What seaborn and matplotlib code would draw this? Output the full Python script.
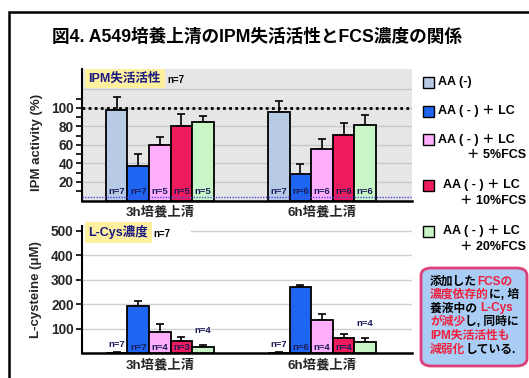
import numpy as np
import pandas as pd
import matplotlib
matplotlib.use("Agg")
import matplotlib.pyplot as plt
import matplotlib.patches as mpatches
from matplotlib.container import BarContainer
import seaborn as sns

# ---------------- data ----------------
groups = ["3h培養上清", "6h培養上清"]
conditions = ["AA (-)", "AA ( - ) ＋ LC", "AA ( - ) ＋ LC\n＋ 5%FCS",
              "AA ( - ) ＋ LC\n＋ 10%FCS", "AA ( - ) ＋ LC\n＋ 20%FCS"]
colors = ["#B7CBE5", "#1E66F2", "#FFAEFC", "#EE1C5C", "#C9F6C6"]

ipm_3h = [97.8, 37.0, 60.3, 80.5, 84.9]
ipm_3h_err = [14.0, 13.0, 8.3, 13.0, 6.5]
ipm_6h = [95.3, 28.3, 55.3, 71.2, 82.0]
ipm_6h_err = [12.3, 11.2, 11.5, 12.2, 10.8]
ipm_n_3h = ["n=7", "n=7", "n=5", "n=5", "n=5"]
ipm_n_6h = ["n=7", "n=6", "n=6", "n=6", "n=6"]

cys_3h = [3.0, 193.0, 86.0, 50.0, 26.0]
cys_3h_err = [1.0, 20.0, 32.0, 18.0, 8.0]
cys_6h = [3.0, 269.0, 136.0, 64.0, 45.0]
cys_6h_err = [1.0, 12.0, 26.0, 16.0, 17.0]
cys_n_3h = ["n=7", "n=7", "n=4", "n=3", "n=4"]
cys_n_6h = ["n=7", "n=6", "n=4", "n=4", "n=4"]

ipm_major_ticks = [20, 40, 60, 80, 100]
ipm_minor_ticks = [10, 30, 50, 70, 90, 110]
cys_ticks = [100, 200, 300, 400, 500]

title = "図4. A549培養上清のIPM失活活性とFCS濃度の関係"
note_lines = [
    [("添加した", "black"), ("FCSの", "#F0203C")],
    [("濃度依存的", "#F0203C"), ("に, 培", "black")],
    [("養液中の ", "black"), ("L-Cys", "#F0203C")],
    [("が減少", "#F0203C"), ("し, 同時に", "black")],
    [("IPM失活活性も", "#F0203C")],
    [("減弱化", "#F0203C"), ("している.", "black")],
]

# ---------------- style ----------------
sns.set_theme(style="white")
plt.rcParams["font.family"] = ["Liberation Sans", "Noto Sans CJK JP", "DejaVu Sans"]
plt.rcParams["font.weight"] = "bold"

W, H = 529, 378
fig = plt.figure(figsize=(W / 100, H / 100), dpi=100)
fig.patch.set_facecolor("white")

def fx(px):
    return px / W

def fy(py):
    return 1 - py / H

# outer frame
fig.patches.append(mpatches.Rectangle((fx(9), fy(400)), 1.2, fy(12) - fy(400),
                                      transform=fig.transFigure, fill=False,
                                      edgecolor="black", linewidth=1.8, zorder=0))

fig.text(fx(256.5), fy(37), title, ha="center", va="center", fontsize=12.7,
         fontweight="bold", color="black")

def make_df(v3, v6):
    rows = []
    for g, vals in zip(groups, [v3, v6]):
        for c, v in zip(conditions, vals):
            rows.append({"group": g, "cond": c, "val": v})
    return pd.DataFrame(rows)

def draw_panel(ax, v3, v6, e3, e6, n3, n6, inside_min, n_y, above_off):
    df = make_df(v3, v6)
    sns.barplot(data=df, x="group", y="val", hue="cond", order=groups,
                hue_order=conditions, palette=colors, saturation=1,
                width=0.665, edgecolor="black", linewidth=1.3,
                errorbar=None, legend=False, ax=ax, zorder=3)
    vals = [v3, v6]
    errs = [e3, e6]
    ns = [n3, n6]
    bar_conts = [c for c in ax.containers if isinstance(c, BarContainer)]
    for hi, cont in enumerate(bar_conts):
        for gi, bar in enumerate(list(cont)):
            xc = bar.get_x() + bar.get_width() / 2
            v = vals[gi][hi]
            e = errs[gi][hi]
            ax.errorbar(xc, v, yerr=[[0], [e]], fmt="none", ecolor="black",
                        elinewidth=1.2, capsize=3.2, capthick=1.2, zorder=2)
            if v >= inside_min:
                ax.text(xc, n_y, ns[gi][hi], ha="center", va="bottom",
                        fontsize=6.8, color="#1A1A5A", fontweight="bold", zorder=5)
            else:
                off = above_off if hi > 0 else above_off * 0.3
                ax.text(xc, v + e + off, ns[gi][hi], ha="center", va="bottom",
                        fontsize=6.8, color="#1A1A5A", fontweight="bold", zorder=5)
    ax.set_xlim(-0.48, 1.555)
    ax.set_xlabel("")
    ax.tick_params(axis="x", length=0, labelsize=9.6, pad=4)
    for lab in ax.get_xticklabels():
        lab.set_fontweight("bold")
    for s in ["top", "right"]:
        ax.spines[s].set_visible(False)
    ax.spines["left"].set_linewidth(1.5)
    ax.spines["bottom"].set_linewidth(1.8)
    ax.spines["left"].set_color("black")
    ax.spines["bottom"].set_color("black")
    ax.tick_params(axis="y", direction="out", length=4, width=1.2, color="black",
                   labelsize=9.8, pad=2, left=True)
    for lab in ax.get_yticklabels():
        lab.set_fontweight("bold")

# ---------------- top panel ----------------
ax1 = fig.add_axes([fx(82), fy(200.5), fx(412) - fx(82), fy(69.3) - fy(200.5)])
ax1.set_facecolor("#E6E6E6")
draw_panel(ax1, ipm_3h, ipm_6h, ipm_3h_err, ipm_6h_err, ipm_n_3h, ipm_n_6h,
           inside_min=0, n_y=4.5, above_off=5)
ax1.set_ylim(0, 141.8)
ax1.set_yticks(ipm_major_ticks)
ax1.set_yticks(ipm_minor_ticks, minor=True)
ax1.tick_params(axis="y", which="minor", direction="out", length=4, width=1.2,
                color="black", left=True)
for gv in [20, 40, 60, 80, 100, 120]:
    ax1.axhline(gv, color="#C8C8C8", linewidth=1.0, zorder=1)
ax1.axhline(100, color="black", linestyle=(0, (1, 1.2)), linewidth=2.0, zorder=2.5)
ax1.axhline(3.5, color="#4A4AE6", linestyle=(0, (1, 1)), linewidth=1.0, zorder=4)
ax1.set_ylabel("IPM activity (%)", fontsize=9.5, fontweight="bold")
ax1.yaxis.set_label_coords(-0.118, 0.44)
ax1.text(0.02, 0.93, "IPM失活活性", transform=ax1.transAxes, ha="left", va="center",
         fontsize=9, fontweight="bold", color="#1A1A80",
         bbox=dict(boxstyle="square,pad=0.3", facecolor="#FFF0A0", edgecolor="none"),
         zorder=6)
ax1.text(0.26, 0.915, "n=7", transform=ax1.transAxes, ha="left", va="center",
         fontsize=7, fontweight="bold", color="black", zorder=6)

# ---------------- bottom panel ----------------
ax2 = fig.add_axes([fx(82), fy(353.3), fx(412) - fx(82), fy(226) - fy(353.3)])
ax2.set_facecolor("white")
draw_panel(ax2, cys_3h, cys_6h, cys_3h_err, cys_6h_err, cys_n_3h, cys_n_6h,
           inside_min=48, n_y=6, above_off=40)
ax2.set_ylim(0, 520)
ax2.set_yticks(cys_ticks)
for gv in [100, 200, 300, 400]:
    ax2.axhline(gv, color="#D0D0D0", linewidth=1.0, zorder=1)
ax2.axhline(500, xmin=0.33, color="#D0D0D0", linewidth=1.0, zorder=1)
ax2.set_ylabel("L-cysteine (μM)", fontsize=9.5, fontweight="bold")
ax2.yaxis.set_label_coords(-0.12, 0.5)
ax2.text(0.02, 0.95, "L-Cys濃度", transform=ax2.transAxes, ha="left", va="center",
         fontsize=9, fontweight="bold", color="#1A1A80",
         bbox=dict(boxstyle="square,pad=0.3", facecolor="#FFF0A0", edgecolor="none"),
         zorder=6)
ax2.text(0.215, 0.935, "n=7", transform=ax2.transAxes, ha="left", va="center",
         fontsize=7, fontweight="bold", color="black", zorder=6)

# ---------------- legend ----------------
leg_y = [82.5, 111, 139.5, 185, 231]
leg_tx = [438, 438, 438, 443, 443]
for name, col, y, tx in zip(conditions, colors, leg_y, leg_tx):
    fig.patches.append(mpatches.Rectangle((fx(423), fy(y + 5.5)), fx(11), 11 / H,
                                          transform=fig.transFigure, facecolor=col,
                                          edgecolor="black", linewidth=1.0))
    lines = name.split("\n")
    fig.text(fx(tx), fy(y), lines[0], ha="left", va="center", fontsize=9,
             fontweight="bold", color="black")
    if len(lines) > 1:
        fig.text(fx(526), fy(y + 16), lines[1], ha="right", va="center", fontsize=9,
                 fontweight="bold", color="black")

# ---------------- note box ----------------
fig.patches.append(mpatches.FancyBboxPatch((fx(421), fy(366)), fx(106), (366 - 268) / H,
                                           boxstyle="round,pad=0,rounding_size=0.02",
                                           transform=fig.transFigure,
                                           facecolor="#A9CDF4", edgecolor="#E0407A",
                                           linewidth=2.0))
fig.canvas.draw()
renderer = fig.canvas.get_renderer()
line_y = [281.5, 295, 308.5, 322, 335.5, 349.5]
for segs, y in zip(note_lines, line_y):
    x = fx(430)
    for s, c in segs:
        t = fig.text(x, fy(y), s, ha="left", va="center", fontsize=8.5,
                     fontweight="bold", color=c)
        bb = t.get_window_extent(renderer=renderer)
        x += bb.width / W

fig.savefig("out.png", dpi=100)
